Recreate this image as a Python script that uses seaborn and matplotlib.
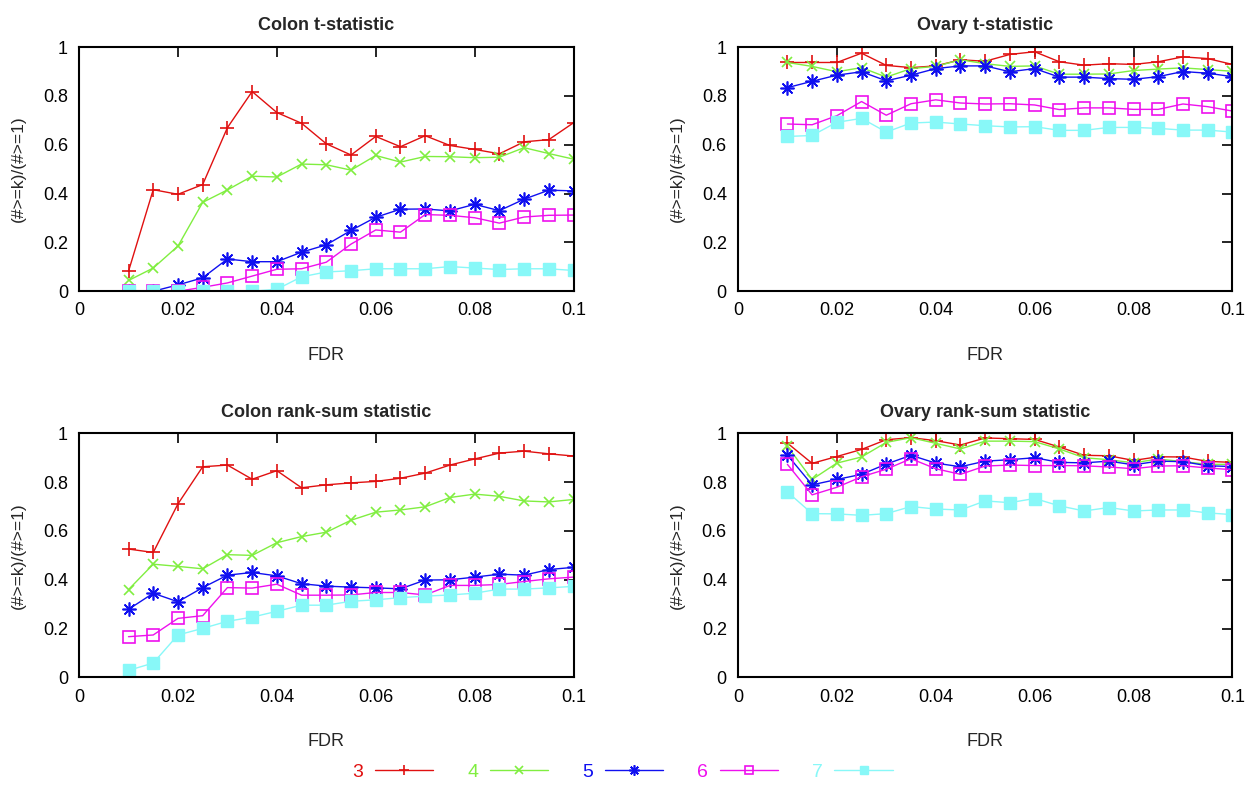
import numpy as np
import pandas as pd
import matplotlib
matplotlib.use("Agg")
import matplotlib.pyplot as plt
import seaborn as sns

# FDR thresholds (x axis)
fdr = [0.01, 0.015, 0.02, 0.025, 0.03, 0.035, 0.04, 0.045, 0.05, 0.055,
       0.06, 0.065, 0.07, 0.075, 0.08, 0.085, 0.09, 0.095, 0.1]
ks = ["3", "4", "5", "6", "7"]

# Colon t-statistic
colon_t = {
    "3": [0.082, 0.416, 0.397, 0.437, 0.670, 0.818, 0.732, 0.688, 0.604, 0.558,
          0.634, 0.592, 0.637, 0.597, 0.581, 0.563, 0.612, 0.621, 0.690],
    "4": [0.044, 0.095, 0.185, 0.364, 0.415, 0.471, 0.468, 0.521, 0.518, 0.496,
          0.556, 0.529, 0.552, 0.551, 0.547, 0.549, 0.588, 0.564, 0.541],
    "5": [0.0, 0.0, 0.026, 0.055, 0.132, 0.121, 0.121, 0.160, 0.190, 0.249,
          0.303, 0.336, 0.337, 0.329, 0.356, 0.330, 0.377, 0.414, 0.411],
    "6": [0.0, 0.0, 0.0, 0.016, 0.034, 0.062, 0.090, 0.092, 0.119, 0.193,
          0.251, 0.242, 0.314, 0.311, 0.301, 0.279, 0.304, 0.311, 0.312],
    "7": [0.0, 0.0, 0.0, 0.0, 0.0, 0.0, 0.008, 0.059, 0.079, 0.084,
          0.092, 0.092, 0.092, 0.101, 0.095, 0.089, 0.092, 0.092, 0.085],
}

# Ovary t-statistic
ovary_t = {
    "3": [0.937, 0.937, 0.937, 0.975, 0.925, 0.916, 0.923, 0.948, 0.942, 0.970,
          0.981, 0.940, 0.926, 0.932, 0.929, 0.940, 0.960, 0.953, 0.929],
    "4": [0.937, 0.921, 0.899, 0.916, 0.877, 0.912, 0.921, 0.948, 0.932, 0.921,
          0.923, 0.889, 0.889, 0.890, 0.904, 0.910, 0.915, 0.908, 0.901],
    "5": [0.834, 0.860, 0.885, 0.899, 0.862, 0.885, 0.912, 0.923, 0.923, 0.899,
          0.912, 0.877, 0.877, 0.871, 0.868, 0.879, 0.900, 0.893, 0.879],
    "6": [0.685, 0.682, 0.719, 0.777, 0.721, 0.768, 0.784, 0.771, 0.767, 0.768,
          0.763, 0.744, 0.751, 0.751, 0.745, 0.745, 0.767, 0.756, 0.738],
    "7": [0.634, 0.638, 0.692, 0.708, 0.652, 0.689, 0.693, 0.685, 0.678, 0.673,
          0.674, 0.659, 0.659, 0.671, 0.671, 0.667, 0.660, 0.660, 0.652],
}

# Colon rank-sum statistic
colon_rs = {
    "3": [0.526, 0.512, 0.711, 0.863, 0.870, 0.812, 0.847, 0.777, 0.789, 0.797,
          0.803, 0.816, 0.837, 0.870, 0.895, 0.919, 0.927, 0.916, 0.907],
    "4": [0.360, 0.464, 0.455, 0.445, 0.503, 0.500, 0.552, 0.577, 0.595, 0.644,
          0.677, 0.686, 0.699, 0.737, 0.751, 0.742, 0.723, 0.719, 0.729],
    "5": [0.279, 0.345, 0.310, 0.368, 0.419, 0.430, 0.416, 0.384, 0.374, 0.370,
          0.367, 0.363, 0.399, 0.400, 0.411, 0.423, 0.419, 0.442, 0.451],
    "6": [0.167, 0.174, 0.242, 0.253, 0.368, 0.366, 0.382, 0.337, 0.337, 0.338,
          0.348, 0.348, 0.338, 0.377, 0.377, 0.381, 0.393, 0.404, 0.411],
    "7": [0.029, 0.059, 0.174, 0.201, 0.230, 0.247, 0.271, 0.296, 0.296, 0.312,
          0.318, 0.327, 0.333, 0.338, 0.345, 0.362, 0.362, 0.367, 0.373],
}

# Ovary rank-sum statistic
ovary_rs = {
    "3": [0.960, 0.877, 0.905, 0.934, 0.974, 0.982, 0.970, 0.952, 0.981, 0.978,
          0.975, 0.944, 0.910, 0.908, 0.889, 0.904, 0.903, 0.885, 0.881],
    "4": [0.947, 0.811, 0.878, 0.903, 0.963, 0.982, 0.959, 0.936, 0.968, 0.968,
          0.966, 0.936, 0.900, 0.892, 0.879, 0.895, 0.884, 0.873, 0.873],
    "5": [0.911, 0.789, 0.811, 0.832, 0.874, 0.910, 0.878, 0.863, 0.886, 0.892,
          0.900, 0.881, 0.879, 0.886, 0.871, 0.886, 0.884, 0.867, 0.864],
    "6": [0.873, 0.748, 0.779, 0.822, 0.853, 0.896, 0.855, 0.832, 0.866, 0.870,
          0.868, 0.868, 0.867, 0.862, 0.855, 0.866, 0.867, 0.858, 0.851],
    "7": [0.760, 0.671, 0.670, 0.664, 0.671, 0.700, 0.690, 0.686, 0.723, 0.716,
          0.733, 0.703, 0.682, 0.696, 0.682, 0.686, 0.686, 0.674, 0.667],
}

panels = [
    ("Colon t-statistic", colon_t),
    ("Ovary t-statistic", ovary_t),
    ("Colon rank-sum statistic", colon_rs),
    ("Ovary rank-sum statistic", ovary_rs),
]

# gnuplot-like line styles
colors = {"3": "#e01010", "4": "#80ee40", "5": "#1010f0", "6": "#ee10ee", "7": "#88f8f8"}
styles = {
    "3": dict(marker="+", markersize=10, mew=1.2),
    "4": dict(marker="x", markersize=7, mew=1.2),
    "5": dict(marker=(8, 2, 0), markersize=10, mew=1.2),
    "6": dict(marker="s", markersize=8, mew=1.2, markerfacecolor="none"),
    "7": dict(marker="s", markersize=8, mew=1.0),
}

sns.set_theme(style="white")
plt.rcParams["font.family"] = ["Liberation Sans", "DejaVu Sans"]

fig = plt.figure(figsize=(12.55, 7.85), dpi=100)
positions = [
    [0.063, 0.629, 0.394, 0.311],
    [0.588, 0.629, 0.394, 0.311],
    [0.063, 0.137, 0.394, 0.311],
    [0.588, 0.137, 0.394, 0.311],
]

for (title, data), pos in zip(panels, positions):
    ax = fig.add_axes(pos)
    for k in ks:
        df = pd.DataFrame({"FDR": fdr, "val": data[k]})
        sns.lineplot(data=df, x="FDR", y="val", ax=ax, label=k, linewidth=1.0,
                     color=colors[k], markeredgecolor=colors[k], **styles[k])
    ax.set_xlim(0, 0.1)
    ax.set_ylim(0, 1)
    ax.set_xticks([0, 0.02, 0.04, 0.06, 0.08, 0.1])
    ax.set_xticklabels(["0", "0.02", "0.04", "0.06", "0.08", "0.1"])
    ax.set_yticks([0, 0.2, 0.4, 0.6, 0.8, 1])
    ax.set_yticklabels(["0", "0.2", "0.4", "0.6", "0.8", "1"])
    ax.tick_params(direction="in", top=True, right=True, length=7, width=1.2,
                   labelsize=13, colors="black", pad=8)
    for sp in ax.spines.values():
        sp.set_color("black")
        sp.set_linewidth(1.5)
    ax.set_title(title, fontsize=13, fontweight="bold", pad=12)
    ax.set_xlabel("FDR", fontsize=13, labelpad=20)
    ax.set_ylabel("(#>=k)/(#>=1)", fontsize=12.5, labelpad=12)
    ax.get_legend().remove()
    ax.set_facecolor("white")

handles, labels = fig.axes[0].get_legend_handles_labels()
fig.legend(handles, labels, loc="center", bbox_to_anchor=(0.496, 0.016), ncol=5,
           frameon=False, markerfirst=False, labelcolor="linecolor",
           fontsize=14, handlelength=3.0, columnspacing=1.75, handletextpad=0.6,
           markerscale=0.75)

fig.savefig("out.png", dpi=100, facecolor="white")
